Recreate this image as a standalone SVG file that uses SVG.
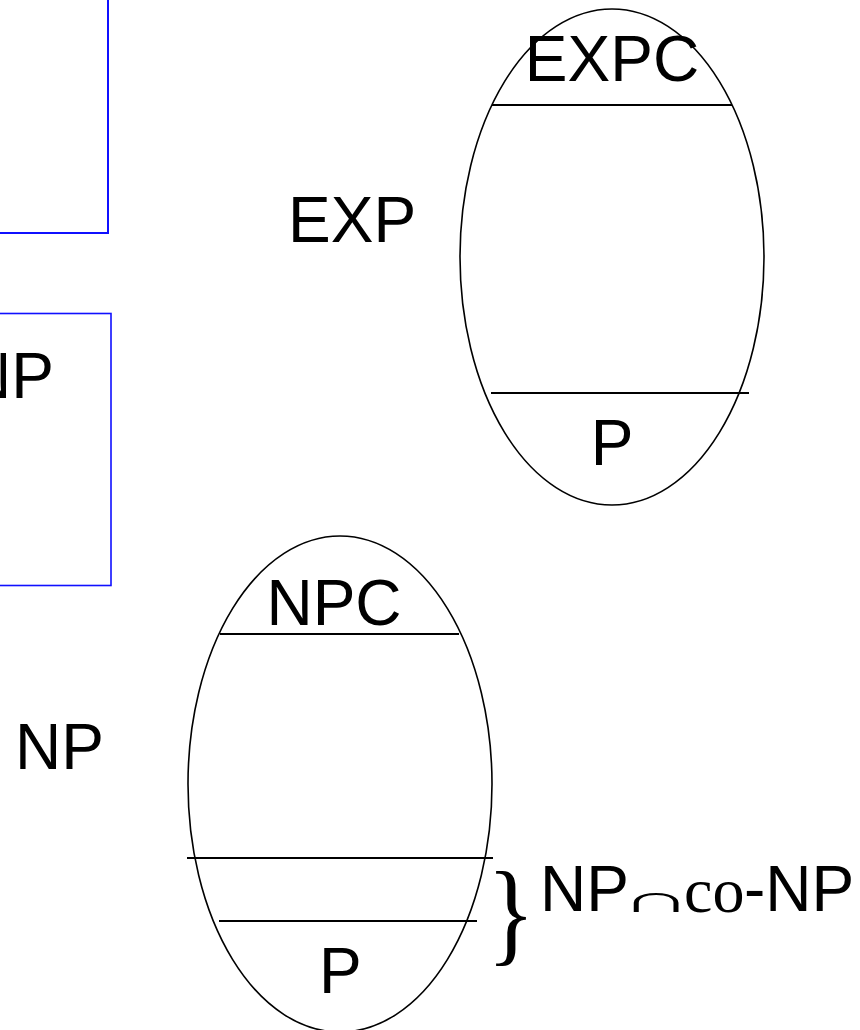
<svg xmlns="http://www.w3.org/2000/svg" width="860" height="1030" viewBox="0 0 860 1030">
<style>
.box{fill:none;stroke:#1010ff}
.ell{fill:none;stroke:#000;stroke-width:1.6}
.ln{stroke:#000;stroke-width:2}
.t{font-family:"Liberation Sans",Arial,sans-serif;font-size:64px;fill:#000}
.s{font-family:"Liberation Serif","Times New Roman",serif;fill:#000}
</style>
<rect width="860" height="1030" fill="#fff"/>
<g id="box-top">
<rect class="box" x="-50" y="-50" width="158" height="283" stroke-width="2"/>
</g>
<g id="box-np">
<rect class="box" x="-50" y="313.5" width="161" height="272" stroke-width="1.6"/>
<text class="t" x="-35" y="398">NP</text>
</g>
<g id="exp">
<text class="t" x="288" y="242">EXP</text>
<ellipse class="ell" cx="612" cy="257" rx="152" ry="248"/>
<text class="t" x="612" y="81" text-anchor="middle">EXPC</text>
<text class="t" x="612" y="465" text-anchor="middle">P</text>
</g>
<g id="np">
<text class="t" x="15" y="769">NP</text>
<ellipse class="ell" cx="340" cy="784" rx="152" ry="248"/>
<text class="t" x="334" y="625" text-anchor="middle">NPC</text>
<text class="t" x="319" y="993">P</text>
</g>
<g id="npconp">
<text class="s" font-size="100" transform="translate(487,951) scale(1,1.15)">}</text>
<text class="t" x="540" y="911">NP</text>
<text class="s" font-size="80" transform="translate(620,912) scale(1.25,0.47)">∩</text>
<text class="s" font-size="64" x="684" y="912">co</text>
<text class="t" x="744" y="911">-NP</text>
</g>
<g id="connectors">
<line class="ln" x1="492" y1="105" x2="732" y2="105"/>
<line class="ln" x1="491" y1="393" x2="749" y2="393"/>
<line class="ln" x1="220" y1="634" x2="459" y2="634"/>
<line class="ln" x1="187" y1="858" x2="493" y2="858"/>
<line class="ln" x1="219" y1="921" x2="477" y2="921"/>
</g>
</svg>
